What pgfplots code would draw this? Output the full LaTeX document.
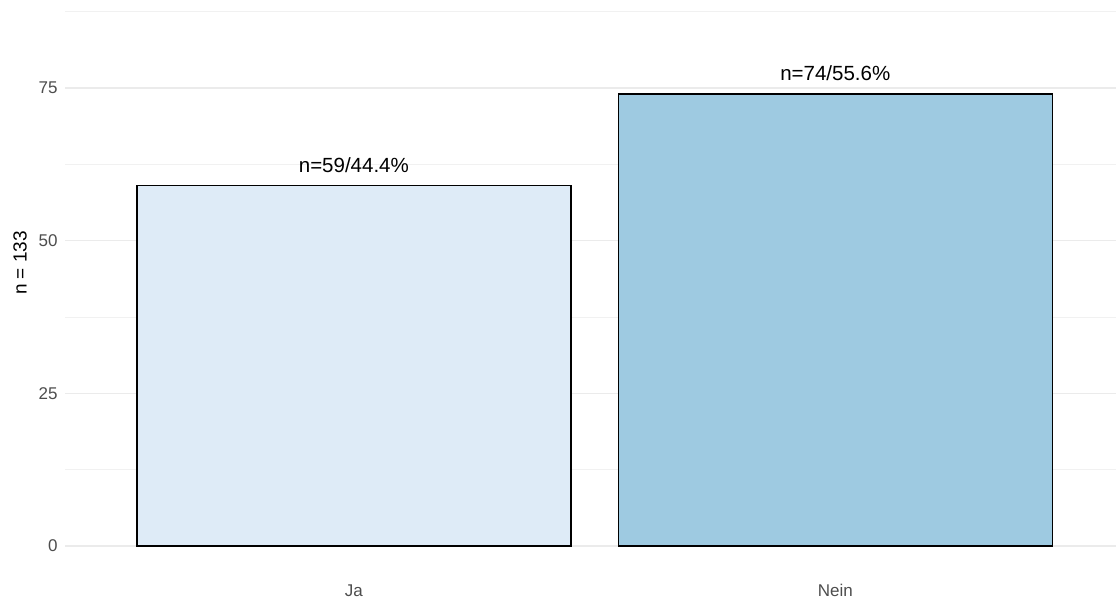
\documentclass[border=0pt]{standalone}
\usepackage{pgfplots}
\pgfplotsset{compat=1.18}
\usepackage{fontspec}
\setmainfont{Liberation Sans}
\definecolor{barA}{HTML}{DEEBF7}
\definecolor{barB}{HTML}{9ECAE1}
\definecolor{gridc}{HTML}{EBEBEB}
\definecolor{tickc}{HTML}{4D4D4D}
\begin{document}
\begin{tikzpicture}[x=1pt,y=1pt]
\useasboundingbox (0,0) rectangle (1116,603);
\begin{axis}[
  at={(65pt,31pt)}, anchor=south west,
  scale only axis, width=1051pt, height=572pt,
  xmin=0.4, xmax=2.583, ymin=-4.25, ymax=89.4,
  axis line style={draw=none},
  major tick length=0pt, minor tick length=0pt,
  xtick={1,2}, xticklabels={Ja,Nein},
  ytick={0,25,50,75}, minor ytick={12.5,37.5,62.5,87.5},
  ymajorgrids, yminorgrids,
  major grid style={gridc, line width=1.1pt},
  minor grid style={gridc!70, line width=0.8pt},
  tick label style={font=\fontsize{17}{20}\selectfont, text=tickc},
  /pgf/number format/assume math mode=true,
  xticklabel style={yshift=-9pt},
  yticklabel style={xshift=-4pt},
  ybar, bar width=434pt, bar shift=0pt,
  nodes near coords, point meta=explicit symbolic,
  every node near coord/.append style={font=\fontsize{20.5}{24}\selectfont, text=black, yshift=9pt},
  clip=false,
]
\addplot[fill=barA, draw=black, line width=1.5pt] coordinates {(1,59) [n=59/44.4\%]};
\addplot[fill=barB, draw=black, line width=1.5pt] coordinates {(2,74) [n=74/55.6\%]};
\end{axis}
\node[rotate=90, font=\fontsize{19}{22}\selectfont] at (20,340) {n = 133};
\end{tikzpicture}
\end{document}
